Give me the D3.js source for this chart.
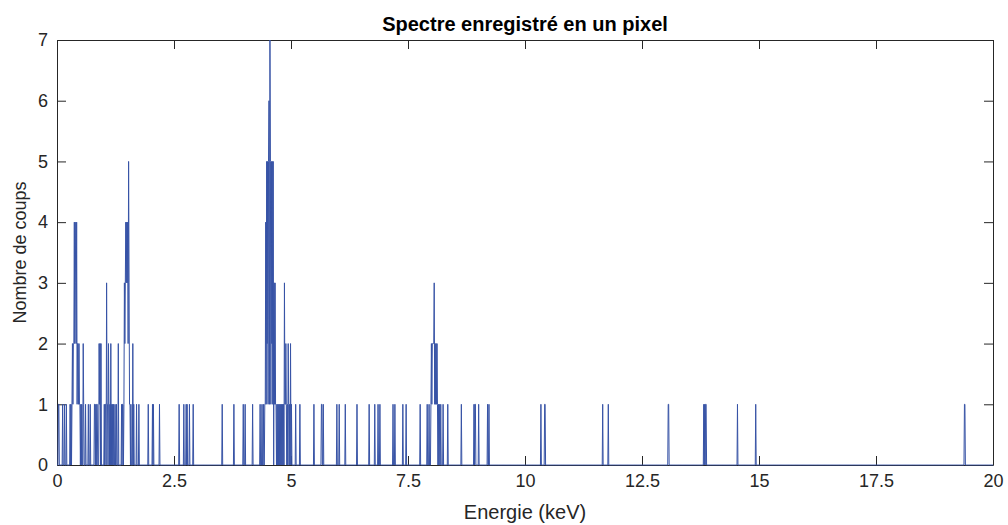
<!DOCTYPE html>
<html>
<head>
<meta charset="utf-8">
<script src="https://cdn.jsdelivr.net/npm/d3@7"></script>
<style>
body { margin: 0; background: #fff; }
text { font-family: "Liberation Sans", Arial, sans-serif; fill: #262626; }
</style>
</head>
<body>
<div id="chart"></div>
<script>
/************** Spectre enregistré en un pixel **************/

// canaux non nuls : energie (keV) et nombre de coups
var energies = [
	0.03, 0.04, 0.12, 0.16, 0.20,
	0.28, 0.30, 0.32, 0.33, 0.34, 0.35, 0.36, 0.37, 0.38, 0.39, 0.40, 0.41, 0.42, 0.43, 0.44, 0.45, 0.46, 0.47, 0.48, 0.49, 0.51, 0.53, 0.56, 0.57, 0.61, 0.67, 0.71,
	0.80, 0.81, 0.83, 0.85, 0.86, 0.90, 0.91, 0.92, 0.94,
	1.01, 1.03, 1.04, 1.06, 1.07, 1.08, 1.10, 1.11, 1.13, 1.15, 1.17, 1.19, 1.21, 1.24, 1.27, 1.31,
	1.38, 1.40, 1.41, 1.43, 1.44, 1.45, 1.46, 1.47, 1.48, 1.49, 1.50, 1.51, 1.52, 1.53, 1.54, 1.55, 1.56, 1.58, 1.62, 1.64, 1.70, 1.75,
	1.95, 2.04, 2.06, 2.19, 2.61, 2.71, 2.76, 2.78, 2.83, 2.91,
	3.53, 3.78, 3.98, 4.02, 4.18, 4.34, 4.38, 4.41,
	4.44, 4.45, 4.46, 4.47, 4.48, 4.49, 4.50, 4.51, 4.52, 4.53, 4.54, 4.55, 4.56, 4.57, 4.58, 4.59, 4.60, 4.61, 4.62, 4.64, 4.65, 4.66, 4.67, 4.68,
	4.70, 4.72, 4.74, 4.76, 4.78, 4.80, 4.82, 4.84, 4.86, 4.87, 4.88, 4.89, 4.90, 4.92, 4.94, 4.95, 4.97, 4.99, 5.01,
	5.10, 5.19, 5.49, 5.65, 5.66, 5.69, 5.98, 6.03, 6.16, 6.41, 6.67, 6.79, 6.86, 6.90, 7.18, 7.22, 7.39, 7.46, 7.76, 7.91, 7.95,
	7.99, 8.00, 8.01, 8.02, 8.03, 8.04, 8.05, 8.06, 8.07, 8.08, 8.09, 8.10, 8.11, 8.12, 8.13, 8.15, 8.17, 8.20, 8.25, 8.35,
	8.64, 8.91, 8.93, 8.94, 9.01, 9.20, 9.23,
	10.34, 10.42, 10.43, 11.66, 11.78, 13.06, 13.07, 13.82, 13.84, 13.86, 13.87, 14.54, 14.93, 19.39, 19.40
];
var counts = [
	1, 1, 1, 1, 1,
	1, 1, 1, 2, 1, 2, 2, 4, 2, 4, 3, 2, 4, 1, 2, 2, 1, 2, 1, 1, 1, 1, 2, 1, 1, 1, 1,
	1, 1, 1, 1, 1, 2, 1, 2, 2,
	1, 1, 1, 3, 1, 1, 2, 1, 1, 2, 1, 1, 1, 1, 1, 2,
	1, 1, 1, 1, 3, 2, 3, 4, 3, 4, 3, 4, 2, 5, 3, 1, 1, 1, 2, 1, 1, 1,
	1, 1, 1, 1, 1, 1, 1, 1, 1, 1,
	1, 1, 1, 1, 1, 1, 1, 1,
	1, 1, 4, 1, 5, 2, 5, 1, 5, 6, 1, 7, 5, 1, 5, 2, 5, 1, 5, 3, 1, 3, 1, 1,
	1, 1, 1, 1, 1, 1, 1, 1, 3, 1, 1, 2, 1, 1, 2, 1, 1, 2, 1,
	1, 1, 1, 1, 1, 1, 1, 1, 1, 1, 1, 1, 1, 1, 1, 1, 1, 1, 1, 1, 1,
	1, 2, 1, 2, 2, 2, 2, 3, 1, 2, 1, 2, 1, 2, 1, 1, 1, 1, 1, 1,
	1, 1, 1, 1, 1, 1, 1,
	1, 1, 1, 1, 1, 1, 1, 1, 1, 1, 1, 1, 1, 1, 1
];
var x_ticks = [0, 2.5, 5, 7.5, 10, 12.5, 15, 17.5, 20];
var y_ticks = [0, 1, 2, 3, 4, 5, 6, 7];
var step = 0.01; // largeur d'un canal (keV)

var width = 1008, height = 525;
var x_left = 57, x_right = 993, y_top = 40, y_bottom = 465;
var tickLen = 9;

var svg = d3.select("#chart")
	.append("svg")
	.attr("width", width)
	.attr("height", height);

var x = d3.scaleLinear().domain([0, 20]).range([x_left, x_right]);
var y = d3.scaleLinear().domain([0, 7]).range([y_bottom, y_top]);

// spectre complet, canaux vides = 0
var byChannel = new Map();
for (var i = 0; i < energies.length; i++) {
	byChannel.set(Math.round(energies[i] / step), counts[i]);
}
var spectrum = [];
for (var c = 0; c <= Math.round(20 / step); c++) {
	spectrum.push([c * step, byChannel.get(c) || 0]);
}

// axes (boite avec graduations vers l'interieur)
svg.append("g")
	.attr("transform", "translate(0," + y_bottom + ")")
	.call(d3.axisBottom(x).tickValues(x_ticks).tickSizeInner(-tickLen).tickSizeOuter(0).tickPadding(9).tickFormat(d3.format("")));
svg.append("g")
	.attr("transform", "translate(0," + y_top + ")")
	.call(d3.axisTop(x).tickValues(x_ticks).tickSizeInner(-tickLen).tickSizeOuter(0).tickFormat(""));
svg.append("g")
	.attr("transform", "translate(" + x_left + ",0)")
	.call(d3.axisLeft(y).tickValues(y_ticks).tickSizeInner(-tickLen).tickSizeOuter(0).tickPadding(9).tickFormat(d3.format("d")));
svg.append("g")
	.attr("transform", "translate(" + x_right + ",0)")
	.call(d3.axisRight(y).tickValues(y_ticks).tickSizeInner(-tickLen).tickSizeOuter(0).tickFormat(""));

svg.selectAll(".domain").attr("stroke", "#262626").attr("stroke-width", 1);
svg.selectAll(".tick line").attr("stroke", "#262626");
svg.selectAll(".tick text").style("font-size", "18px").attr("fill", "#262626");

// courbe
svg.append("path")
	.datum(spectrum)
	.attr("fill", "none")
	.attr("stroke", "#3753a6")
	.attr("stroke-width", 1)
	.attr("d", d3.line().x(function (d) { return x(d[0]); }).y(function (d) { return y(d[1]); }));

// titres
svg.append("text")
	.attr("x", (x_left + x_right) / 2)
	.attr("y", 31)
	.attr("text-anchor", "middle")
	.style("font-size", "20px")
	.style("font-weight", "bold")
	.style("fill", "#000")
	.text("Spectre enregistré en un pixel");

svg.append("text")
	.attr("x", (x_left + x_right) / 2)
	.attr("y", 519)
	.attr("text-anchor", "middle")
	.style("font-size", "20px")
	.text("Energie (keV)");

svg.append("text")
	.attr("transform", "translate(26," + ((y_top + y_bottom) / 2) + ") rotate(-90)")
	.attr("text-anchor", "middle")
	.style("font-size", "18px")
	.text("Nombre de coups");
</script>
</body>
</html>
